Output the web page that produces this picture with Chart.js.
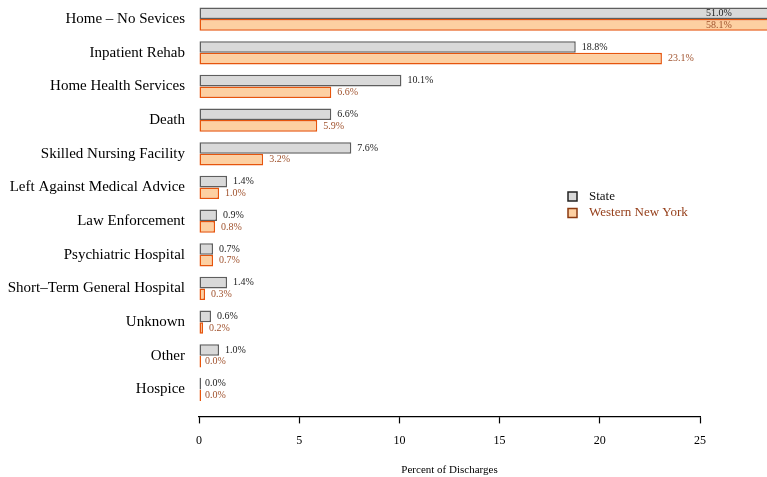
<!DOCTYPE html>
<html>
<head>
<meta charset="utf-8">
<script src="https://cdn.jsdelivr.net/npm/chart.js@4.4.1/dist/chart.umd.min.js"></script>
<style>
  html, body { margin: 0; padding: 0; background: #fff; }
  #wrap { width: 767px; height: 477px; }
</style>
</head>
<body>
<div id="wrap"><canvas id="chart"></canvas></div>
<script>
// categories and values
const categories = ["Home \u2013 No Sevices", "Inpatient Rehab", "Home Health Services", "Death",
    "Skilled Nursing Facility", "Left Against Medical Advice", "Law Enforcement",
    "Psychiatric Hospital", "Short\u2013Term General Hospital", "Unknown", "Other", "Hospice"];
const stateValues = [51.0, 18.8, 10.1, 6.6, 7.6, 1.4, 0.9, 0.7, 1.4, 0.6, 1.0, 0.0];
const wnyValues = [58.1, 23.1, 6.6, 5.9, 3.2, 1.0, 0.8, 0.7, 0.3, 0.2, 0.0, 0.0];
const seriesNames = ["State", "Western New York"];
const xTicks = [0, 5, 10, 15, 20, 25];

const FONT = "'Liberation Serif', 'DejaVu Serif', serif";
const labelColors = ["#222222", "#a0522d"];

// bars sit on a numeric row index so the axis can sit a bit below the last row
function toRows(values) {
    return values.map(function (v, i) { return { x: v, y: i }; });
}

// value labels at the bar ends
const valueLabels = {
    id: "valueLabels",
    afterDatasetsDraw(chart) {
        const ctx = chart.ctx;
        const xs = chart.scales.x;
        ctx.save();
        ctx.font = "10px " + FONT;
        ctx.textBaseline = "middle";
        chart.data.datasets.forEach(function (ds, d) {
            const meta = chart.getDatasetMeta(d);
            ctx.fillStyle = labelColors[d];
            meta.data.forEach(function (bar, i) {
                const v = ds.data[i].x;
                const txt = v.toFixed(1) + "%";
                if (v > xs.max) {
                    ctx.textAlign = "center";
                    ctx.fillText(txt, xs.getPixelForValue(25.95), bar.y);
                } else {
                    ctx.textAlign = "left";
                    ctx.fillText(txt, xs.getPixelForValue(v) + 6, bar.y);
                }
            });
        });
        ctx.restore();
    }
};

// legend in the middle right
const boxLegend = {
    id: "boxLegend",
    afterDraw(chart) {
        const ctx = chart.ctx;
        ctx.save();
        ctx.font = "13px " + FONT;
        ctx.textBaseline = "middle";
        ctx.textAlign = "left";
        const x0 = 568, y0 = 196.5, step = 16.5;
        chart.data.datasets.forEach(function (ds, d) {
            const y = y0 + d * step;
            ctx.fillStyle = ds.backgroundColor;
            ctx.fillRect(x0, y - 4.5, 9, 9);
            ctx.lineWidth = 1.5;
            ctx.strokeStyle = d === 0 ? "#222222" : "#8b3a10";
            ctx.strokeRect(x0, y - 4.5, 9, 9);
            ctx.fillStyle = d === 0 ? "#111111" : "#96401c";
            ctx.fillText(ds.label, x0 + 21, y);
        });
        ctx.restore();
    }
};

new Chart(document.getElementById("chart"), {
    type: "bar",
    data: {
        datasets: [
            {
                label: seriesNames[0],
                data: toRows(stateValues),
                backgroundColor: "#d9d9d9",
                borderColor: "#5e5e5e",
                borderWidth: 1.5,
                borderSkipped: false,
                minBarLength: 2,
                clip: false
            },
            {
                label: seriesNames[1],
                data: toRows(wnyValues),
                backgroundColor: "#fdd0a2",
                borderColor: "#e6550d",
                borderWidth: 1.5,
                borderSkipped: false,
                minBarLength: 2,
                clip: false
            }
        ]
    },
    options: {
        indexAxis: "y",
        responsive: true,
        maintainAspectRatio: false,
        animation: false,
        categoryPercentage: 0.69,
        barPercentage: 1,
        layout: { padding: { top: 0, bottom: 0, right: 67, left: 0 } },
        plugins: {
            legend: { display: false },
            tooltip: { enabled: false }
        },
        scales: {
            x: {
                type: "linear",
                position: "bottom",
                offset: false,
                min: 0,
                max: 25,
                afterBuildTicks: function (scale) {
                    scale.ticks = xTicks.map(function (v) { return { value: v }; });
                },
                grid: { drawOnChartArea: false, tickLength: 7, color: "#000", tickWidth: 1.2 },
                border: { display: true, color: "#000", width: 1.2 },
                ticks: { color: "#000", padding: 10, font: { family: FONT, size: 12 }, maxRotation: 0 },
                title: {
                    display: true,
                    text: "Percent of Discharges",
                    color: "#000",
                    font: { family: FONT, size: 11 },
                    padding: { top: 6, bottom: 0 }
                }
            },
            y: {
                type: "linear",
                reverse: true,
                offset: false,
                min: -0.3,
                max: 11.8,
                afterBuildTicks: function (scale) {
                    scale.ticks = categories.map(function (c, i) { return { value: i }; });
                },
                afterFit: function (scale) { scale.width = 199; },
                grid: { display: false, drawTicks: true, tickLength: 14 },
                border: { display: false },
                ticks: {
                    color: "#000",
                    padding: 0,
                    font: { family: FONT, size: 15 },
                    callback: function (v) { return categories[v]; }
                }
            }
        }
    },
    plugins: [valueLabels, boxLegend]
});
</script>
</body>
</html>
